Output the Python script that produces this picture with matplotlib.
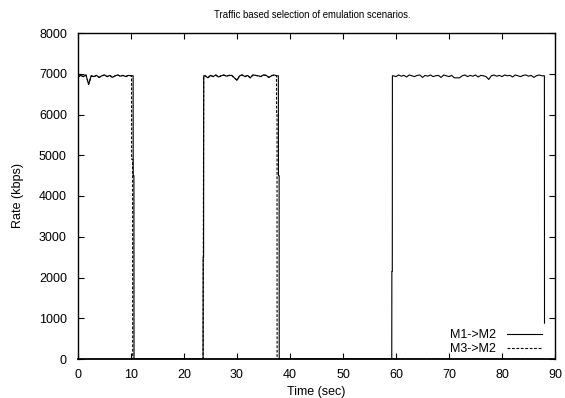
import numpy as np
import matplotlib
matplotlib.use("Agg")
import matplotlib.pyplot as plt

plt.rcParams['font.family'] = ['Liberation Sans', 'DejaVu Sans']

# ---- data (kbps) ----
# plateau samples every 0.5 s
seg1_start = 0.0
seg1 = [6920, 6960, 6930, 6970, 6740, 6950, 6930, 6960, 6910, 6950, 6970,
        6930, 6960, 6910, 6950, 6970, 6940, 6960, 6930, 6960, 6950]
seg2_start = 24.0
seg2 = [6950, 6900, 6960, 6930, 6970, 6920, 6950, 6970, 6940, 6960, 6960, 6900,
        6840, 6950, 6970, 6930, 6960, 6900, 6970, 6960, 6950, 6930, 6970, 6960,
        6910, 6950, 6970, 6950]
seg3_start = 59.5
seg3 = [6950, 6930, 6970, 6940, 6960, 6920, 6970, 6950, 6930, 6960, 6970, 6910,
        6960, 6940, 6970, 6930, 6950, 6960, 6910, 6970, 6950, 6930, 6960, 6900,
        6900, 6900, 6950, 6970, 6930, 6960, 6940, 6970, 6920, 6960, 6950, 6930,
        6860, 6950, 6970, 6940, 6960, 6930, 6970, 6950, 6960, 6920, 6970, 6950,
        6930, 6960, 6970, 6940, 6960, 6910, 6950, 6970, 6950]

# transitions (time, value)
m1_drop1 = ([10.4, 10.42, 10.55, 10.57], [6950, 4500, 4500, 0])
m1_rise1 = ([23.6, 23.62, 23.7, 23.72], [0, 2500, 2500, 6950])
m1_drop2 = ([37.8, 37.82, 37.95, 37.97], [6950, 4500, 4500, 0])
m1_rise2 = ([59.2, 59.22, 59.3, 59.32], [0, 2150, 2150, 6950])
m1_end = ([88.0, 88.02], [6950, 880])

m3_drop1 = ([10.1, 10.12, 10.3, 10.32], [6950, 4900, 4900, 0])
m3_rise1 = ([23.6, 23.72], [0, 6950])
m3_drop2 = ([37.45, 37.47, 37.55, 37.57], [6950, 6000, 6000, 0])
m3_end = ([88.0], [0])

title = "Traffic based selection of emulation scenarios."
xlabel = "Time (sec)"
ylabel = "Rate (kbps)"
labels = ["M1->M2", "M3->M2"]


def seg_times(start, vals):
    return list(start + 0.5 * np.arange(len(vals)))


def build(parts):
    t, v = [], []
    for pt, pv in parts:
        t += list(pt)
        v += list(pv)
    return t, v


m1_t, m1_v = build([
    (seg_times(seg1_start, seg1), seg1), m1_drop1, m1_rise1,
    (seg_times(seg2_start, seg2), seg2), m1_drop2, m1_rise2,
    (seg_times(seg3_start, seg3), seg3), m1_end])

m3_t, m3_v = build([
    (seg_times(seg1_start, seg1[:-1]), seg1[:-1]), m3_drop1, m3_rise1,
    (seg_times(seg2_start, seg2[:-1]), seg2[:-1]), m3_drop2, m3_end])

fig = plt.figure(figsize=(5.65, 3.98), dpi=100)
ax = fig.add_axes([78/565, 1-359/398, (555-78)/565, (359-33)/398])

ax.plot(m1_t, m1_v, color='black', lw=0.8, label=labels[0], zorder=1)
ax.plot(m3_t, m3_v, color='black', lw=0.8, ls=(0, (2.5, 1.5)),
        label=labels[1], zorder=1)

ax.set_xlim(0, 90)
ax.set_ylim(0, 8000)
ax.set_xticks(np.arange(0, 91, 10))
ax.set_yticks(np.arange(0, 8001, 1000))
ax.tick_params(direction='in', length=4, width=0.8, top=True, right=True,
               labelsize=9)
ax.tick_params(axis='x', pad=7)
ax.tick_params(axis='y', pad=8)
for s in ax.spines.values():
    s.set_linewidth(1.0)
    s.set_zorder(5)
ax.spines['bottom'].set_linewidth(1.3)

ax.set_xlabel(xlabel, fontsize=9, labelpad=4)
ax.set_ylabel(ylabel, fontsize=9, labelpad=11)
fig.text(312/565, 1-15/398, title, ha='center', va='center', fontsize=6.9)

leg = ax.legend(loc='lower right', frameon=False, markerfirst=False,
                fontsize=9, handlelength=2.8, handletextpad=0.9,
                labelspacing=0.15, borderaxespad=0.0,
                bbox_to_anchor=(0.983, -0.004))

fig.savefig("out.png", dpi=100)
